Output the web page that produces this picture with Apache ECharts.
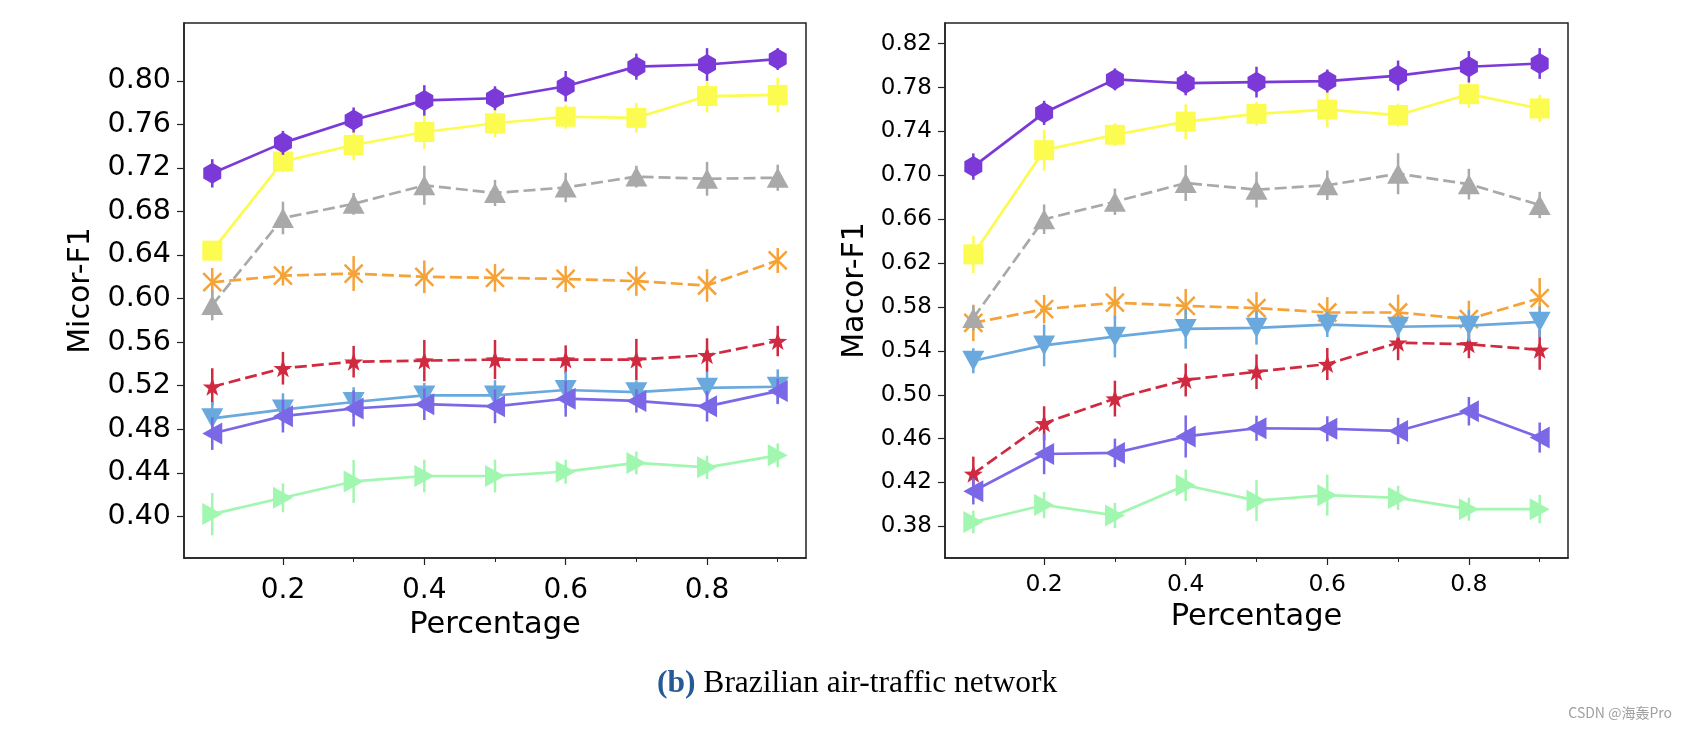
<!DOCTYPE html>
<html>
<head>
<meta charset="utf-8">
<script src="https://cdn.jsdelivr.net/npm/echarts@6/dist/echarts.min.js"></script>
<style>
  html, body { margin: 0; padding: 0; background: #fff; }
  #chart { width: 1686px; height: 732px; }
</style>
</head>
<body>
<div id="chart"></div>
<script>
// ---------------- data ----------------
const percentages = [0.1, 0.2, 0.3, 0.4, 0.5, 0.6, 0.7, 0.8, 0.9];
const xTickLabels = [0.2, 0.4, 0.6, 0.8];
const xMinorTicks = [0.3, 0.5, 0.7, 0.9];
const microTickLabels = [0.40, 0.44, 0.48, 0.52, 0.56, 0.60, 0.64, 0.68, 0.72, 0.76, 0.80];
const macroTickLabels = [0.38, 0.42, 0.46, 0.50, 0.54, 0.58, 0.62, 0.66, 0.70, 0.74, 0.78, 0.82];

// Micro-F1 (left panel)
const microHexagon    = [0.715, 0.743, 0.764, 0.782, 0.784, 0.795, 0.813, 0.815, 0.820];
const microHexagonErr = [0.013, 0.011, 0.0115, 0.014, 0.011, 0.014, 0.012, 0.015, 0.010];
const microSquare     = [0.644, 0.726, 0.741, 0.753, 0.761, 0.767, 0.766, 0.786, 0.787];
const microSquareErr  = [0.009, 0.010, 0.014, 0.0155, 0.013, 0.011, 0.0137, 0.015, 0.016];
const microTriUp      = [0.594, 0.674, 0.687, 0.704, 0.697, 0.702, 0.712, 0.710, 0.711];
const microTriUpErr   = [0.014, 0.015, 0.010, 0.018, 0.012, 0.0135, 0.010, 0.0155, 0.012];
const microCross      = [0.615, 0.621, 0.623, 0.620, 0.619, 0.618, 0.616, 0.612, 0.635];
const microCrossErr   = [0.013, 0.009, 0.016, 0.015, 0.0127, 0.012, 0.0135, 0.015, 0.0115];
const microStar       = [0.519, 0.536, 0.542, 0.543, 0.544, 0.544, 0.544, 0.548, 0.561];
const microStarErr    = [0.017, 0.015, 0.0145, 0.019, 0.018, 0.013, 0.019, 0.0155, 0.014];
const microTriDown    = [0.490, 0.498, 0.505, 0.511, 0.511, 0.516, 0.514, 0.518, 0.519];
const microTriDownErr = [0.015, 0.015, 0.0135, 0.0115, 0.014, 0.017, 0.0107, 0.015, 0.016];
const microTriLeft    = [0.476, 0.492, 0.499, 0.503, 0.501, 0.508, 0.506, 0.501, 0.515];
const microTriLeftErr = [0.015, 0.015, 0.0165, 0.0145, 0.0155, 0.0165, 0.0107, 0.014, 0.0115];
const microTriRight   = [0.402, 0.417, 0.432, 0.437, 0.437, 0.441, 0.449, 0.445, 0.456];
const microTriRightErr= [0.0194, 0.0133, 0.0197, 0.015, 0.015, 0.011, 0.0105, 0.0107, 0.011];

// Macro-F1 (right panel)
const macroHexagon    = [0.708, 0.757, 0.7875, 0.784, 0.785, 0.786, 0.791, 0.799, 0.802];
const macroHexagonErr = [0.012, 0.011, 0.010, 0.011, 0.014, 0.0105, 0.0137, 0.0143, 0.014];
const macroSquare     = [0.628, 0.723, 0.737, 0.749, 0.756, 0.760, 0.755, 0.774, 0.761];
const macroSquareErr  = [0.017, 0.0187, 0.0105, 0.0158, 0.011, 0.0163, 0.0105, 0.0127, 0.0124];
const macroTriUp      = [0.570, 0.660, 0.676, 0.693, 0.687, 0.691, 0.7015, 0.692, 0.673];
const macroTriUpErr   = [0.0114, 0.0135, 0.012, 0.0163, 0.0163, 0.0135, 0.0187, 0.014, 0.012];
const macroCross      = [0.5655, 0.578, 0.584, 0.581, 0.579, 0.575, 0.575, 0.569, 0.588];
const macroCrossErr   = [0.0166, 0.013, 0.0146, 0.0155, 0.0146, 0.014, 0.0163, 0.0168, 0.0184];
const macroStar       = [0.428, 0.474, 0.4965, 0.5135, 0.521, 0.528, 0.5475, 0.546, 0.541];
const macroStarErr    = [0.0156, 0.0155, 0.0163, 0.015, 0.0158, 0.0146, 0.016, 0.0127, 0.0182];
const macroTriDown    = [0.531, 0.545, 0.553, 0.560, 0.561, 0.564, 0.562, 0.563, 0.5665];
const macroTriDownErr = [0.0114, 0.019, 0.019, 0.018, 0.0153, 0.0114, 0.010, 0.0143, 0.014];
const macroTriLeft    = [0.412, 0.446, 0.447, 0.462, 0.4695, 0.469, 0.467, 0.485, 0.461];
const macroTriLeftErr = [0.012, 0.0184, 0.013, 0.0192, 0.0114, 0.0114, 0.012, 0.013, 0.0137];
const macroTriRight   = [0.384, 0.3995, 0.390, 0.4175, 0.4035, 0.4085, 0.406, 0.3957, 0.3957];
const macroTriRightErr= [0.0104, 0.012, 0.0114, 0.0143, 0.0187, 0.0187, 0.011, 0.0105, 0.013];

// ---------------- styles ----------------
const FONT = 'DejaVu Sans';
const HEX = 'path://M0,-10L8.66,-5L8.66,5L0,10L-8.66,5L-8.66,-5Z';
const STAR = 'path://M0,-10L2.35,-3.24L9.51,-3.09L3.8,1.24L5.88,8.09L0,4L-5.88,8.09L-3.8,1.24L-9.51,-3.09L-2.35,-3.24Z';
const XMARK = 'path://M-10,-10L10,10M10,-10L-10,10';

const styleCross   = { color: '#f5a236', symbol: XMARK, size: [18, 18], rotate: 0, dashed: true, stroke: true };
const styleTriUp   = { color: '#a9a9a9', symbol: 'triangle', size: [22, 20], rotate: 0, dashed: true };
const styleStar    = { color: '#cf2a40', symbol: STAR, size: [19, 18], rotate: 0, dashed: true };
const styleTriRight= { color: '#a2f7b0', symbol: 'triangle', size: [22, 20], rotate: -90, dashed: false };
const styleTriDown = { color: '#6aa9dd', symbol: 'triangle', size: [22, 20], rotate: 180, dashed: false };
const styleTriLeft = { color: '#7b68e6', symbol: 'triangle', size: [22, 20], rotate: 90, dashed: false };
const styleSquare  = { color: '#fcfc50', symbol: 'rect', size: [20, 20], rotate: 0, dashed: false };
const styleHexagon = { color: '#7b3ad8', symbol: HEX, size: [18, 21], rotate: 0, dashed: false };

function panelSeries(xIdx, yIdx, list) {
  const out = [];
  list.forEach(([vals, errs, st], k) => {
    out.push({
      type: 'custom',
      xAxisIndex: xIdx, yAxisIndex: yIdx,
      silent: true, z: 2 + k * 2,
      data: percentages.map((x, i) => [x, vals[i], errs[i]]),
      encode: { x: 0, y: 1 },
      renderItem: (params, api) => {
        const x = api.value(0), y = api.value(1), e = api.value(2);
        const p1 = api.coord([x, y - e]);
        const p2 = api.coord([x, y + e]);
        return { type: 'line', shape: { x1: p1[0], y1: p1[1], x2: p2[0], y2: p2[1] },
                 style: { stroke: st.color, lineWidth: 2.5 } };
      }
    });
    out.push({
      type: 'line',
      xAxisIndex: xIdx, yAxisIndex: yIdx,
      z: 3 + k * 2,
      data: percentages.map((x, i) => [x, vals[i]]),
      symbol: st.symbol, symbolSize: st.size, symbolRotate: st.rotate,
      showSymbol: true, silent: true,
      lineStyle: { color: st.color, width: 2.7, type: st.dashed ? [12, 5] : 'solid' },
      itemStyle: st.stroke
        ? { color: st.color, borderColor: st.color, borderWidth: 2.5 }
        : { color: st.color, borderWidth: 0 },
      emphasis: { disabled: true }
    });
  });
  return out;
}

const leftList = [
  [microCross, microCrossErr, styleCross],
  [microTriUp, microTriUpErr, styleTriUp],
  [microStar, microStarErr, styleStar],
  [microTriRight, microTriRightErr, styleTriRight],
  [microTriDown, microTriDownErr, styleTriDown],
  [microTriLeft, microTriLeftErr, styleTriLeft],
  [microSquare, microSquareErr, styleSquare],
  [microHexagon, microHexagonErr, styleHexagon]
];
const rightList = [
  [macroCross, macroCrossErr, styleCross],
  [macroTriUp, macroTriUpErr, styleTriUp],
  [macroStar, macroStarErr, styleStar],
  [macroTriRight, macroTriRightErr, styleTriRight],
  [macroTriDown, macroTriDownErr, styleTriDown],
  [macroTriLeft, macroTriLeftErr, styleTriLeft],
  [macroSquare, macroSquareErr, styleSquare],
  [macroHexagon, macroHexagonErr, styleHexagon]
];

function mainX(gridIndex, labelSize, labelMargin, nameGap) {
  return {
    type: 'value', gridIndex, min: 0.06, max: 0.94, position: 'bottom',
    name: 'Percentage', nameLocation: 'middle', nameGap,
    nameTextStyle: { fontFamily: FONT, fontSize: 30.5, color: '#000' },
    axisLine: { show: true, onZero: false, lineStyle: { color: '#222', width: 1.5 } },
    axisTick: { show: true, length: 7, customValues: xTickLabels, lineStyle: { color: '#222', width: 1.2 } },
    axisLabel: { show: true, customValues: xTickLabels, margin: labelMargin, fontFamily: FONT, fontSize: labelSize, color: '#000',
                 formatter: v => v.toFixed(1) },
    splitLine: { show: false }
  };
}
function minorX(gridIndex) {
  return {
    type: 'value', gridIndex, min: 0.06, max: 0.94, position: 'bottom',
    axisLine: { show: false, onZero: false },
    axisTick: { show: true, length: 4, customValues: xMinorTicks, lineStyle: { color: '#222', width: 1 } },
    axisLabel: { show: false },
    splitLine: { show: false }
  };
}
function mainY(gridIndex, min, max, ticks, labelSize, name, gap) {
  return {
    type: 'value', gridIndex, min, max,
    name, nameLocation: 'middle', nameGap: gap,
    nameTextStyle: { fontFamily: FONT, fontSize: 30, color: '#000' },
    axisLine: { show: true, onZero: false, lineStyle: { color: '#222', width: 1.5 } },
    axisTick: { show: true, length: 7, customValues: ticks, lineStyle: { color: '#222', width: 1.2 } },
    axisLabel: { show: true, customValues: ticks, margin: 13, fontFamily: FONT, fontSize: labelSize, color: '#000',
                 formatter: v => v.toFixed(2) },
    splitLine: { show: false }
  };
}

const option = {
  animation: false,
  backgroundColor: '#fff',
  grid: [
    { left: 184, top: 23, width: 622, height: 535, show: true, borderColor: '#222', borderWidth: 1.5, backgroundColor: 'transparent' },
    { left: 945, top: 23, width: 623, height: 535, show: true, borderColor: '#222', borderWidth: 1.5, backgroundColor: 'transparent' }
  ],
  xAxis: [ mainX(0, 28, 19, 51), minorX(0), mainX(1, 23.5, 15, 44), minorX(1) ],
  yAxis: [
    mainY(0, 0.3617, 0.8531, microTickLabels, 28.5, 'Micor-F1', 88),
    mainY(1, 0.3512, 0.8389, macroTickLabels, 23, 'Macor-F1', 75)
  ],
  title: [
    { text: '{b|(b)} Brazilian air-traffic network', left: 657, top: 668, padding: 0,
      textStyle: { fontFamily: 'Liberation Serif', fontSize: 31.5, fontWeight: 'normal', color: '#000',
        rich: { b: { fontFamily: 'Liberation Serif', fontSize: 31.5, fontWeight: 'bold', color: '#245b96' } } } },
    { text: 'CSDN @海轰Pro', right: 14, top: 706, padding: 0,
      textStyle: { fontFamily: 'Noto Sans CJK SC', fontSize: 14, fontWeight: 'normal', color: '#a0a0a0' } }
  ],
  series: [ ...panelSeries(0, 0, leftList), ...panelSeries(2, 1, rightList) ]
};

const chart = echarts.init(document.getElementById('chart'), null, { renderer: 'canvas' });
chart.setOption(option);
</script>
</body>
</html>
